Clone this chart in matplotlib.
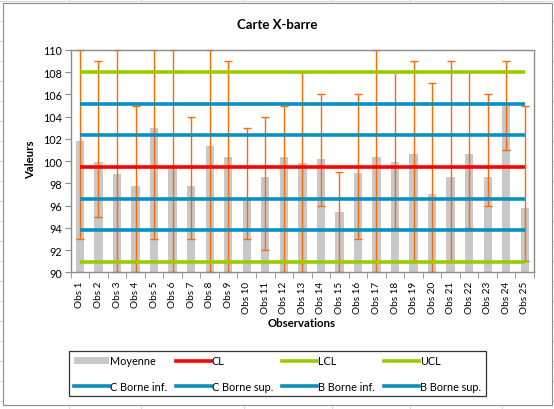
import matplotlib
matplotlib.use("Agg")
import matplotlib.pyplot as plt
from matplotlib.lines import Line2D
from matplotlib.patches import Rectangle, Patch
import numpy as np

plt.rcParams['font.family'] = ['Lato', 'DejaVu Sans']

categories = [f"Obs {i}" for i in range(1, 26)]
means = [101.8, 99.9, 98.8, 97.8, 103.0, 99.4, 97.8, 101.4, 100.4, 96.6,
         98.6, 100.4, 99.8, 100.2, 95.4, 98.9, 100.4, 99.9, 100.6, 97.0,
         98.6, 100.6, 98.6, 105.0, 95.8]
highs = [110, 109, 110, 105, 110, 110, 104, 110, 109, 103, 104, 105, 108,
         106, 99, 106, 110, 108, 109, 107, 109, 108, 106, 109, 105]
lows = [93, 95, 90, 90, 93, 90, 93, 90, 90, 93, 92, 90, 90,
        96, 90, 93, 90, 94, 91, 90, 91, 94, 96, 101, 91]

cl = 99.47
lcl = 90.93
ucl = 108.0
c_inf = 96.62
c_sup = 102.32
b_inf = 93.78
b_sup = 105.16

W, H = 554, 410
fig = plt.figure(figsize=(W / 100, H / 100), dpi=100)
fig.patch.set_facecolor('white')

# spreadsheet grid behind the chart
grid_col = '#dadada'
for gx in [69, 141, 244, 332, 410, 502]:
    fig.add_artist(Line2D([gx / W, gx / W], [0, 1], color=grid_col, lw=0.8, zorder=-3))
for gy in range(2, 411, 20):
    fig.add_artist(Line2D([0, 1], [1 - gy / H, 1 - gy / H], color=grid_col, lw=0.8, zorder=-3))
fig.add_artist(Rectangle((3.5 / W, 1 - 405.5 / H), (551.5 - 3.5) / W, (405.5 - 3.5) / H,
                         transform=fig.transFigure, facecolor='white',
                         edgecolor='#8c8c8c', lw=0.8, zorder=-2))

ax = fig.add_axes([70.7 / W, 1 - 273.3 / H, (534 - 70.7) / W, (273.3 - 51) / H])
ax.set_facecolor('none')
x = np.arange(1, len(categories) + 1)
m = np.array(means)
err = [m - np.array(lows), np.array(highs) - m]

bar_col = '#c8c8c8'
blue = '#0a8fc0'
green = '#99cc00'
red = '#ff0000'
orange = '#ff6a00'

ax.bar(x, means, width=0.45, color=bar_col, zorder=1)
ax.errorbar(x, means, yerr=err, fmt='none', ecolor=orange, elinewidth=1.0,
            capsize=3.0, capthick=1.0, zorder=2, clip_on=False)

lw = 2.6
xs = [x[0], x[-1]]
ax.plot(xs, [b_sup] * 2, color=blue, lw=lw, zorder=3, solid_capstyle='butt')
ax.plot(xs, [c_sup] * 2, color=blue, lw=lw, zorder=3, solid_capstyle='butt')
ax.plot(xs, [c_inf] * 2, color=blue, lw=lw, zorder=3, solid_capstyle='butt')
ax.plot(xs, [b_inf] * 2, color=blue, lw=lw, zorder=3, solid_capstyle='butt')
ax.plot(xs, [ucl] * 2, color=green, lw=lw, zorder=3, solid_capstyle='butt')
ax.plot(xs, [lcl] * 2, color=green, lw=lw, zorder=3, solid_capstyle='butt')
ax.plot(xs, [cl] * 2, color=red, lw=lw, zorder=3, solid_capstyle='butt')

ax.set_xlim(0.5, len(categories) + 0.5)
ax.set_ylim(90, 110)
ax.set_yticks(np.arange(90, 111, 2))
ax.set_xticks(x)
ax.set_xticklabels(categories, rotation=90, va='top', ha='center')
ax.set_xticks(np.arange(0.5, len(categories) + 1, 1), minor=True)
ax.tick_params(axis='x', which='major', length=0, pad=6, labelsize=7.2)
ax.tick_params(axis='x', which='minor', length=4, color='#8c8c8c', direction='out')
ax.tick_params(axis='y', length=4, color='#8c8c8c', labelsize=7.8, pad=2.5)
for s in ax.spines.values():
    s.set_color('#8c8c8c')
    s.set_linewidth(1.0)

fig.text(302 / W, 1 - 323.5 / H, 'Observations', ha='center', va='center',
         fontsize=8.2, fontweight='bold')
fig.text(31 / W, 1 - 160 / H, 'Valeurs', ha='center', va='center', rotation=90,
         fontsize=8.2, fontweight='bold')
fig.text(277 / W, 1 - 25 / H, 'Carte X-barre', ha='center', va='center',
         fontsize=9.5, fontweight='bold')

handles = [
    Patch(facecolor=bar_col, edgecolor='none'),
    Line2D([], [], color=blue, lw=lw),
    Line2D([], [], color=red, lw=lw),
    Line2D([], [], color=blue, lw=lw),
    Line2D([], [], color=green, lw=lw),
    Line2D([], [], color=blue, lw=lw),
    Line2D([], [], color=green, lw=lw),
    Line2D([], [], color=blue, lw=lw),
]
labels = ['Moyenne', 'C Borne inf.', 'CL', 'C Borne sup.', 'LCL', 'B Borne inf.',
          'UCL', 'B Borne sup.']
leg = fig.legend(handles, labels, ncol=4, mode='expand', loc='center',
                 bbox_to_anchor=(69 / W, 1 - 398.5 / H, (486 - 69) / W, (398.5 - 350.5) / H),
                 fontsize=7.8, frameon=True, fancybox=False, edgecolor='black',
                 handlelength=3.2, handletextpad=0.1, borderpad=0.45,
                 labelspacing=1.3, columnspacing=0.5, borderaxespad=0)
leg.get_frame().set_linewidth(0.9)

fig.savefig('out.png', dpi=100)
